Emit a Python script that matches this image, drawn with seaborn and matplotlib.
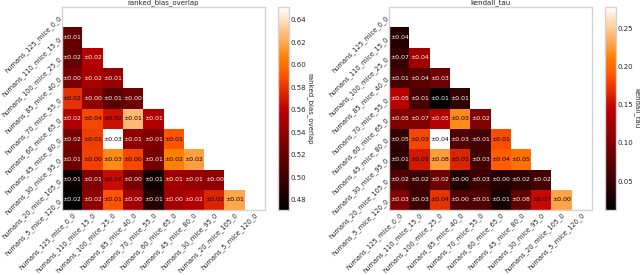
import numpy as np
import matplotlib
matplotlib.use("Agg")
import matplotlib.pyplot as plt
import seaborn as sns

# conditions (rows / columns of both matrices)
conditions = ["humans_125_mice_0_0", "humans_110_mice_15_0", "humans_100_mice_25_0",
              "humans_85_mice_40_0", "humans_70_mice_55_0", "humans_60_mice_65_0",
              "humans_45_mice_80_0", "humans_30_mice_95_0", "humans_20_mice_105_0",
              "humans_5_mice_120_0"]

# lower triangle, row i has i entries (row 0 is empty)
bias_mean = [
    [],
    [0.518],
    [0.518, 0.556],
    [0.527, 0.550, 0.541],
    [0.579, 0.538, 0.514, 0.523],
    [0.554, 0.586, 0.566, 0.626, 0.554],
    [0.527, 0.583, 0.651, 0.538, 0.532, 0.590],
    [0.523, 0.584, 0.610, 0.586, 0.527, 0.606, 0.617],
    [0.478, 0.532, 0.565, 0.527, 0.480, 0.547, 0.541, 0.538],
    [0.471, 0.538, 0.590, 0.547, 0.489, 0.547, 0.556, 0.574, 0.619],
]
bias_std = [
    [],
    [0.01],
    [0.02, 0.02],
    [0.00, 0.02, 0.01],
    [0.02, 0.00, 0.01, 0.00],
    [0.02, 0.04, 0.02, 0.01, 0.01],
    [0.02, 0.01, 0.03, 0.01, 0.01, 0.01],
    [0.01, 0.00, 0.03, 0.00, 0.01, 0.02, 0.02],
    [0.01, 0.01, 0.01, 0.00, 0.01, 0.01, 0.01, 0.00],
    [0.02, 0.02, 0.01, 0.00, 0.01, 0.00, 0.02, 0.02, 0.01],
]
bias_ticks = [0.48, 0.50, 0.52, 0.54, 0.56, 0.58, 0.60, 0.62, 0.64]

tau_mean = [
    [],
    [0.039],
    [0.049, 0.124],
    [0.060, 0.076, 0.089],
    [0.140, 0.060, 0.012, 0.047],
    [0.102, 0.102, 0.137, 0.217, 0.102],
    [0.047, 0.182, 0.278, 0.068, 0.060, 0.185],
    [0.044, 0.158, 0.227, 0.164, 0.060, 0.193, 0.204],
    [0.068, 0.055, 0.089, 0.033, 0.055, 0.039, 0.047, 0.060],
    [0.102, 0.055, 0.172, 0.068, 0.068, 0.028, 0.081, 0.150, 0.230],
]
tau_std = [
    [],
    [0.04],
    [0.07, 0.04],
    [0.01, 0.04, 0.03],
    [0.05, 0.01, 0.01, 0.01],
    [0.05, 0.07, 0.05, 0.03, 0.02],
    [0.05, 0.03, 0.04, 0.03, 0.01, 0.01],
    [0.01, 0.01, 0.08, 0.01, 0.03, 0.04, 0.05],
    [0.02, 0.02, 0.02, 0.00, 0.03, 0.00, 0.02, 0.02],
    [0.03, 0.03, 0.04, 0.00, 0.01, 0.01, 0.08, 0.07, 0.00],
]
tau_ticks = [0.05, 0.10, 0.15, 0.20, 0.25]


def to_matrix(rows):
    n = len(conditions)
    m = np.full((n, n), np.nan)
    for i, r in enumerate(rows):
        m[i, :len(r)] = r
    return m


sns.set_theme(style="white")
plt.rcParams["font.family"] = ["DejaVu Sans"]

fig = plt.figure(figsize=(6.4, 2.75), dpi=100)
panels = [
    ("ranked_bias_overlap", bias_mean, bias_std, bias_ticks,
     [0.097, 0.236, 0.317, 0.738], [0.434, 0.236, 0.017, 0.738]),
    ("kendall_tau", tau_mean, tau_std, tau_ticks,
     [0.608, 0.236, 0.317, 0.738], [0.945, 0.236, 0.017, 0.738]),
]

for name, means, stds, ticks, ax_rect, cax_rect in panels:
    ax = fig.add_axes(ax_rect)
    cax = fig.add_axes(cax_rect)
    data = to_matrix(means)
    err = to_matrix(stds)
    mask = np.triu(np.ones_like(data, dtype=bool))
    labels = np.where(np.isnan(err), "", np.vectorize(lambda v: f"\u00b1{v:.2f}")(np.nan_to_num(err)))
    sns.heatmap(data, mask=mask, cmap="gist_heat", annot=labels, fmt="",
                annot_kws={"fontsize": 4.4}, ax=ax, cbar_ax=cax,
                xticklabels=conditions, yticklabels=conditions)
    # dark text on bright cells
    vmin, vmax = np.nanmin(data), np.nanmax(data)
    mid = (vmin + vmax) / 2
    for t in ax.texts:
        x, y = t.get_position()
        v = data[int(y), int(x)]
        t.set_color("black" if v > mid else "white")

    for s in ax.spines.values():
        s.set_visible(True)
        s.set_color("#d4d4d4")
        s.set_linewidth(1.0)
    ax.tick_params(length=0, pad=1)
    ax.set_xticklabels(conditions, rotation=45, ha="right", rotation_mode="anchor", fontsize=4.8)
    ax.set_yticklabels(conditions, rotation=45, ha="right", va="center", rotation_mode="anchor", fontsize=4.8)
    ax.set_title(name, fontsize=5, pad=2)

    cb = ax.collections[0].colorbar
    cb.set_ticks(ticks)
    cb.set_ticklabels([f"{t:.2f}" for t in ticks])
    cb.outline.set_linewidth(1.0)
    cb.outline.set_edgecolor("#d4d4d4")
    cax.tick_params(labelsize=5, length=0, pad=1)
    cb.set_label(name, fontsize=5, rotation=270, labelpad=5)

fig.savefig("out.png", dpi=100)
